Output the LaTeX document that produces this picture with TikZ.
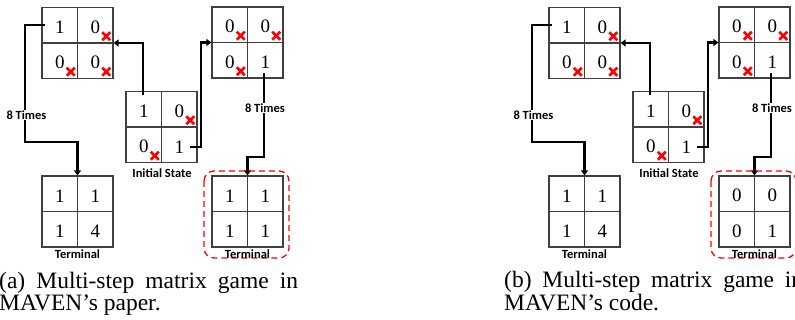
\documentclass[tikz,border=0pt]{standalone}
\usepackage{fontspec}
\setmainfont{Liberation Serif}
\newfontfamily\lblfont{Carlito}
\usetikzlibrary{arrows.meta,calc}
\definecolor{gridc}{HTML}{404040}
\definecolor{xred}{HTML}{FF0000}
\tikzset{
 mbox/.style={draw=gridc, line width=1.2pt, minimum width=71pt, minimum height=71pt, inner sep=0pt},
 mline/.style={draw=gridc, line width=1.2pt},
 val/.style={font=\fontsize{19}{19}\selectfont, inner sep=0pt},
 xmk/.style={draw=xred, line width=2.5pt},
 conn/.style={draw=black, line width=2.4pt, -{Triangle[length=5pt,width=7pt]}},
 lbl/.style={font=\lblfont\bfseries\fontsize{12.5}{13}\selectfont, inner sep=1pt},
 tbox/.style={draw=xred, dash pattern=on 6pt off 4pt, line width=1.3pt, rounded corners=10pt},
 captext/.style={font=\fontsize{23.5}{21}\selectfont, inner sep=0pt, anchor=base west, align=left},
}
\newcommand\mgrid[3]{%
 \node[mbox] (#1) at (#2,#3) {};
 \draw[mline] (#1.north) -- (#1.south) (#1.west) -- (#1.east);}
\newcommand\mvals[5]{%
 \node[val] (#111) at ($(#1)+(-17.75,-15.75)$) {#2};
 \node[val] (#112) at ($(#1)+(17.75,-15.75)$) {#3};
 \node[val] (#121) at ($(#1)+(-17.75,19.75)$) {#4};
 \node[val] (#122) at ($(#1)+(17.75,19.75)$) {#5};}
\newcommand\xmk[1]{%
 \draw[xmk] ($(#1)+(7,5)$) -- ($(#1)+(15,13)$)
            ($(#1)+(7,13)$) -- ($(#1)+(15,5)$);}
\newcommand\panel[6]{%
 \mgrid{#1A}{#2+77.5}{43}
 \mvals{#1A}{1}{0}{0}{0}
 \xmk{#1A12}\xmk{#1A21}\xmk{#1A22}
 \mgrid{#1I}{#2+161.5}{127}
 \mvals{#1I}{1}{0}{0}{1}
 \xmk{#1I12}\xmk{#1I21}
 \mgrid{#1B}{#2+247.5}{42.5}
 \mvals{#1B}{0}{0}{0}{1}
 \xmk{#1B11}\xmk{#1B12}\xmk{#1B21}
 \mgrid{#1T}{#2+77.5}{211.5}
 \mvals{#1T}{1}{1}{1}{4}
 \mgrid{#1U}{#2+247.5}{211.5}
 \mvals{#1U}{#3}{#4}{#5}{#6}
 \draw[conn] ($(#1I11)+(-0.5,-16)$) |- (#1A.east);
 \draw[conn] ($(#1I22)+(11,0)$) -- ++(11,0) |- (#1B.west);
 \coordinate (#1lp) at (#2+25,142);
 \draw[conn] ($(#1A11)+(-15,-2.5)$) -| (#1lp) -| (#1T.north);
 \node[lbl, fill=white] (#1lt) at (#2+26.5,115) {8 Times};
 \coordinate (#1rp) at (#2+264.25,157);
 \draw[conn] ($(#1B22)+(-1,11)$) -- (#1rp) -| (#1U.north);
 \node[lbl, fill=white] (#1rt) at (#2+265,108) {8 Times};
 \node[lbl] (#1is) at (#2+162,173) {Initial State};
 \draw[tbox] (#2+204,171) rectangle (#2+289,258);
 \node[lbl] (#1tl) at (#2+77.5,254) {Terminal};
 \node[lbl] (#1tr) at (#2+247.5,254) {Terminal};
}
\begin{document}
\begin{tikzpicture}[x=1pt,y=-1pt]
\useasboundingbox (0,0) rectangle (795,320);
\panel{a}{0}{1}{1}{1}{1}
\panel{b}{507}{0}{0}{0}{1}
\node[captext] (ca) at (-1,310) {\makebox[299pt][s]{(a) Multi-step matrix game in}\\MAVEN’s paper.};
\node[captext] (cb) at (504,310) {\makebox[299pt][s]{(b) Multi-step matrix game in}\\MAVEN’s code.};
\end{tikzpicture}
\end{document}
